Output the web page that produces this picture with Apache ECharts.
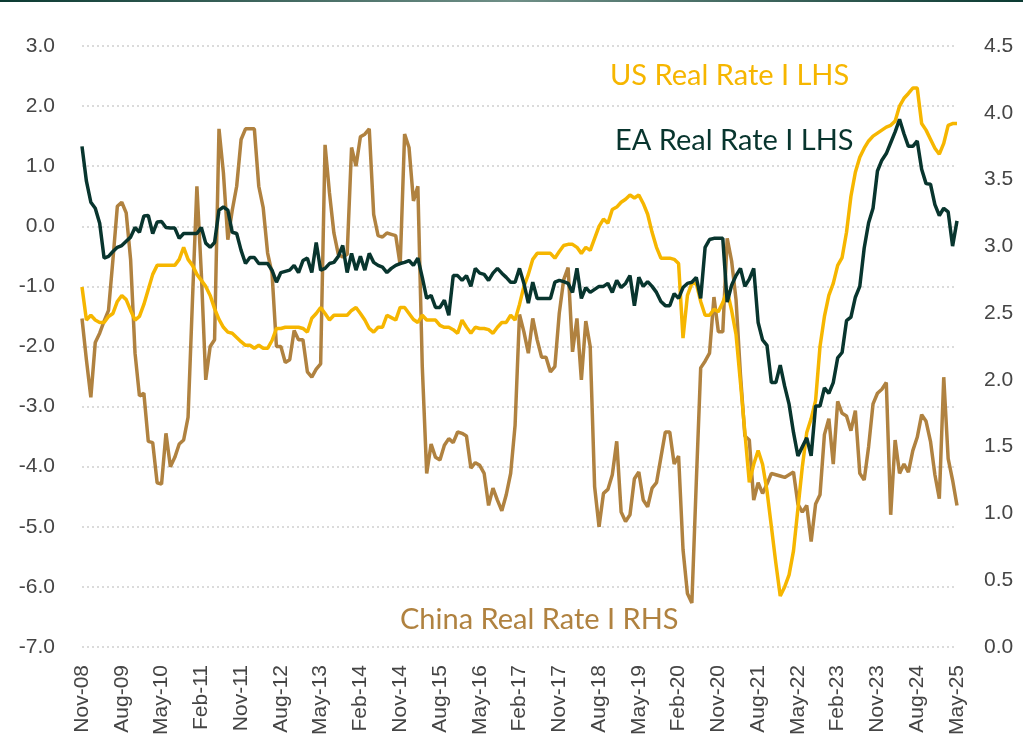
<!DOCTYPE html>
<html>
<head>
<meta charset="utf-8">
<script src="https://cdn.jsdelivr.net/npm/echarts@6/dist/echarts.min.js"></script>
<style>
    html, body { margin: 0; padding: 0; background: #fff; }
    #chart { width: 1023px; height: 745px; }
</style>
</head>
<body>
<div id="chart"></div>
<script>
// monthly, Nov-08 .. May-25
var startYear = 2008, startMonth = 10, monthCount = 199;
var monthNames = ['Jan','Feb','Mar','Apr','May','Jun','Jul','Aug','Sep','Oct','Nov','Dec'];

var usRate = [
    -1.01,-1.56,-1.48,-1.56,-1.6,-1.6,-1.5,-1.45,-1.25,-1.15,
    -1.22,-1.4,-1.56,-1.5,-1.3,-1.05,-0.8,-0.65,-0.65,-0.65,
    -0.65,-0.65,-0.55,-0.35,-0.55,-0.65,-0.8,-0.9,-1.0,-1.15,
    -1.37,-1.55,-1.68,-1.76,-1.78,-1.85,-1.92,-1.98,-1.98,-2.03,
    -1.98,-2.03,-2.03,-1.9,-1.7,-1.7,-1.68,-1.68,-1.68,-1.68,
    -1.7,-1.76,-1.53,-1.45,-1.35,-1.45,-1.56,-1.48,-1.48,-1.48,
    -1.48,-1.4,-1.35,-1.45,-1.56,-1.7,-1.76,-1.68,-1.68,-1.48,
    -1.52,-1.56,-1.35,-1.35,-1.45,-1.55,-1.6,-1.48,-1.56,-1.56,
    -1.56,-1.65,-1.68,-1.68,-1.72,-1.78,-1.56,-1.68,-1.78,-1.68,
    -1.7,-1.7,-1.72,-1.78,-1.68,-1.6,-1.6,-1.48,-1.56,-1.3,
    -1.0,-0.8,-0.55,-0.45,-0.45,-0.45,-0.45,-0.53,-0.42,-0.32,
    -0.3,-0.3,-0.35,-0.45,-0.35,-0.4,-0.2,0.0,0.12,0.05,
    0.28,0.32,0.4,0.45,0.52,0.47,0.52,0.38,0.2,-0.1,
    -0.35,-0.53,-0.53,-0.53,-0.55,-0.62,-1.86,-1.15,-0.95,-0.95,
    -1.25,-1.48,-1.48,-1.38,-1.42,-1.27,-1.07,-1.4,-1.8,-2.6,
    -3.43,-4.26,-3.96,-3.73,-3.96,-4.4,-5.0,-5.6,-6.15,-6.0,
    -5.8,-5.4,-4.7,-4.0,-3.43,-3.2,-2.9,-2.0,-1.5,-1.15,
    -0.95,-0.65,-0.52,-0.1,0.5,0.9,1.15,1.3,1.42,1.5,
    1.55,1.6,1.65,1.68,1.75,2.0,2.13,2.21,2.3,2.3,
    1.71,1.6,1.45,1.3,1.2,1.38,1.68,1.71,1.71
];

var eaRate = [
    1.33,0.75,0.4,0.3,0.05,-0.53,-0.5,-0.42,-0.35,-0.32,
    -0.25,-0.18,-0.02,-0.1,0.17,0.18,-0.12,0.07,0.08,-0.02,
    -0.03,-0.03,-0.2,-0.12,-0.12,-0.12,-0.12,-0.02,-0.28,-0.35,
    -0.27,0.27,0.32,0.27,-0.1,-0.12,-0.4,-0.62,-0.52,-0.52,
    -0.62,-0.62,-0.62,-0.73,-0.93,-0.77,-0.75,-0.73,-0.65,-0.77,
    -0.57,-0.53,-0.77,-0.27,-0.73,-0.7,-0.62,-0.6,-0.5,-0.32,
    -0.77,-0.45,-0.73,-0.5,-0.73,-0.45,-0.6,-0.65,-0.68,-0.77,
    -0.7,-0.65,-0.62,-0.6,-0.57,-0.65,-0.53,-0.85,-1.2,-1.15,
    -1.35,-1.35,-1.23,-1.48,-0.82,-0.82,-0.9,-0.82,-1.0,-0.7,
    -0.78,-0.8,-0.9,-0.78,-0.7,-0.78,-0.85,-0.93,-0.93,-0.7,
    -0.95,-1.28,-0.93,-1.2,-1.2,-1.2,-1.2,-0.93,-0.9,-0.92,
    -0.95,-1.1,-0.7,-1.2,-1.02,-1.1,-1.05,-1.0,-1.0,-0.95,
    -1.1,-0.9,-1.02,-0.95,-0.82,-1.32,-0.85,-1.0,-0.92,-1.0,
    -1.1,-1.25,-1.32,-1.32,-1.12,-1.2,-1.02,-0.95,-0.93,-0.85,
    -1.2,-0.35,-0.22,-0.2,-0.2,-0.2,-1.26,-0.98,-0.82,-0.7,
    -1.0,-0.88,-0.7,-1.6,-1.89,-1.98,-2.6,-2.6,-2.31,-2.66,
    -2.96,-3.43,-3.82,-3.67,-3.52,-3.82,-2.99,-2.99,-2.69,-2.78,
    -2.6,-2.19,-2.1,-1.57,-1.51,-1.18,-1.0,-0.36,0.06,0.3,
    0.92,1.1,1.21,1.39,1.57,1.78,1.54,1.33,1.33,1.42,
    0.95,0.71,0.7,0.36,0.18,0.3,0.24,-0.33,0.09
];

var chinaRate = [
    2.46,2.15,1.87,2.28,2.35,2.44,2.52,2.9,3.3,3.33,
    3.25,2.9,2.2,1.88,1.9,1.54,1.53,1.23,1.22,1.6,
    1.35,1.42,1.52,1.55,1.72,2.6,3.45,2.8,2.0,2.25,
    2.3,3.88,3.55,3.05,3.27,3.45,3.8,3.88,3.88,3.88,
    3.45,3.29,2.95,2.8,2.25,2.25,2.13,2.15,2.37,2.3,
    2.3,2.06,2.02,2.08,2.12,3.76,3.4,3.1,2.94,2.92,
    2.94,3.74,3.6,3.82,3.84,3.88,3.24,3.08,3.07,3.1,
    3.09,3.08,2.86,3.84,3.74,3.34,3.45,2.1,1.3,1.52,
    1.42,1.4,1.51,1.56,1.53,1.61,1.6,1.58,1.34,1.38,
    1.36,1.3,1.06,1.19,1.1,1.02,1.14,1.3,1.66,2.49,
    2.36,2.2,2.46,2.3,2.17,2.17,2.06,2.1,2.5,2.75,
    2.84,2.21,2.46,2.0,2.44,2.25,1.2,0.9,1.15,1.18,
    1.29,1.54,1.01,0.94,0.99,1.26,1.31,1.1,1.05,1.19,
    1.23,1.42,1.61,1.61,1.37,1.43,0.73,0.4,0.33,1.23,
    2.09,2.14,2.2,2.62,2.36,2.36,3.06,2.89,2.6,2.04,
    1.58,1.55,1.1,1.23,1.15,1.22,1.3,1.29,1.28,1.27,
    1.29,1.31,1.07,1.01,1.06,0.79,1.07,1.14,1.59,1.71,
    1.37,1.84,1.75,1.73,1.62,1.77,1.3,1.25,1.5,1.82,
    1.9,1.93,1.98,0.99,1.55,1.3,1.37,1.31,1.47,1.57,
    1.74,1.69,1.54,1.29,1.11,2.02,1.41,1.25,1.06
];

var months = [];
for (var i = 0; i < monthCount; i++) {
    var m = startMonth + i;
    var y = startYear + Math.floor(m / 12);
    months.push(monthNames[m % 12] + '-' + String(y).slice(2));
}

var colUS = '#F6B600', colEA = '#08352E', colCN = '#B08240';
var axisFont = '"Liberation Sans", Arial, sans-serif';
var noteFont = 'Lato, "Noto Sans", sans-serif';

var chart = echarts.init(document.getElementById('chart'), null, {renderer: 'canvas'});

var option = {
    animation: false,
    backgroundColor: '#fff',
    grid: {left: 82, right: 66, top: 46, bottom: 98, containLabel: false},
    xAxis: {
        type: 'category',
        data: months,
        boundaryGap: false,
        axisLine: {show: false},
        axisTick: {show: false},
        splitLine: {show: false},
        axisLabel: {
            interval: 8,
            rotate: 90,
            margin: 18,
            color: '#454545',
            fontSize: 21,
            fontFamily: axisFont
        }
    },
    yAxis: [{
        type: 'value',
        min: -7, max: 3, interval: 1,
        axisLine: {show: false},
        axisTick: {show: false},
        axisLabel: {
            margin: 27,
            color: '#454545',
            fontSize: 21,
            fontFamily: axisFont,
            formatter: function (v) { return v.toFixed(1); }
        },
        splitLine: {lineStyle: {type: [2, 3], color: '#cfcfcf', width: 1.5}}
    }, {
        type: 'value',
        min: 0, max: 4.5, interval: 0.5,
        axisLine: {show: false},
        axisTick: {show: false},
        axisLabel: {
            margin: 27,
            color: '#454545',
            fontSize: 21,
            fontFamily: axisFont,
            formatter: function (v) { return v.toFixed(1); }
        },
        splitLine: {show: false}
    }],
    series: [{
        name: 'China Real Rate I RHS',
        type: 'line',
        yAxisIndex: 1,
        data: chinaRate,
        showSymbol: false,
        lineStyle: {color: colCN, width: 3.5},
        z: 2
    }, {
        name: 'US Real Rate I LHS',
        type: 'line',
        data: usRate,
        showSymbol: false,
        lineStyle: {color: colUS, width: 3.5},
        z: 3
    }, {
        name: 'EA Real Rate I LHS',
        type: 'line',
        data: eaRate,
        showSymbol: false,
        lineStyle: {color: colEA, width: 3.5},
        z: 4
    }],
    graphic: [{
        type: 'rect',
        left: 0, top: 0,
        shape: {width: 1023, height: 2},
        style: {
            fill: new echarts.graphic.LinearGradient(0, 0, 1, 0, [
                {offset: 0, color: '#0b3a32'},
                {offset: 0.5, color: '#6f8f87'},
                {offset: 1, color: '#0b3a32'}
            ])
        }
    }, {
        type: 'text', left: 610, top: 61,
        style: {text: 'US Real Rate I LHS', fill: colUS, font: '29px ' + noteFont}
    }, {
        type: 'text', left: 615, top: 126,
        style: {text: 'EA Real Rate I LHS', fill: colEA, font: '29px ' + noteFont}
    }, {
        type: 'text', left: 400, top: 605,
        style: {text: 'China Real Rate I RHS', fill: colCN, font: '29px ' + noteFont}
    }]
};

chart.setOption(option);
</script>
</body>
</html>
